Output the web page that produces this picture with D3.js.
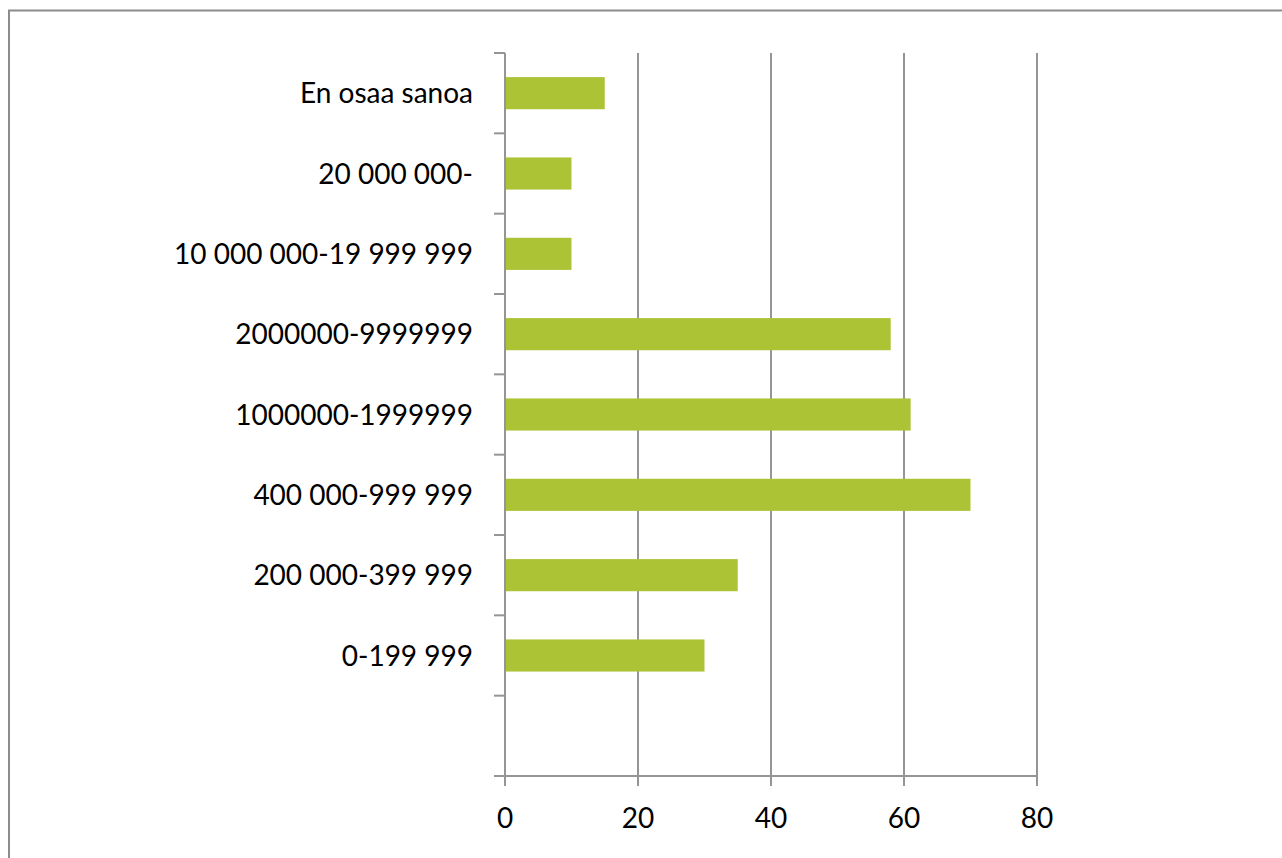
<!DOCTYPE html>
<html>
<head>
<meta charset="utf-8">
<script src="https://cdn.jsdelivr.net/npm/d3@7"></script>
<style>
  html, body { margin: 0; padding: 0; background: #fff; }
  svg { display: block; }
  text { font-family: Lato, "Open Sans", sans-serif; fill: #000; }
</style>
</head>
<body>
<svg id="chart" width="1282" height="858"></svg>
<script>
// Income categories, top to bottom; the last one is an empty slot
const categories = [
  "En osaa sanoa",
  "20 000 000-",
  "10 000 000-19 999 999",
  "2000000-9999999",
  "1000000-1999999",
  "400 000-999 999",
  "200 000-399 999",
  "0-199 999",
  ""
];
const values = [15, 10, 10, 58, 61, 70, 35, 30, null];
const xTicks = [0, 20, 40, 60, 80];

const svg = d3.select("#chart");
const gridColor = "#959595";
const barColor = "#adc336";
const fontSize = 28;

// Outer frame of the chart area
svg.append("rect")
  .attr("x", 9).attr("y", 10.5)
  .attr("width", 1400).attr("height", 1000)
  .attr("fill", "none")
  .attr("stroke", "#8c8c8c")
  .attr("stroke-width", 2);

const plot = { left: 505, right: 1037, top: 53, bottom: 776 };

const x = d3.scaleLinear().domain([0, 80]).range([plot.left, plot.right]);
const y = d3.scaleBand()
  .domain(categories.map((c, i) => i))
  .range([plot.top, plot.bottom])
  .paddingInner(0.6)
  .paddingOuter(0.3);
const step = y.step();

// Vertical gridlines
svg.append("g").selectAll("line")
  .data(xTicks.filter(t => t > 0))
  .join("line")
  .attr("x1", d => x(d)).attr("x2", d => x(d))
  .attr("y1", plot.top).attr("y2", plot.bottom)
  .attr("stroke", gridColor).attr("stroke-width", 2);

// Bars
svg.append("g").selectAll("rect")
  .data(values.map((v, i) => ({ v, i })).filter(d => d.v != null))
  .join("rect")
  .attr("x", x(0))
  .attr("y", d => y(d.i))
  .attr("width", d => x(d.v) - x(0))
  .attr("height", y.bandwidth())
  .attr("fill", barColor);

// Category axis: line plus ticks between categories
const yAxis = svg.append("g");
yAxis.append("line")
  .attr("x1", plot.left).attr("x2", plot.left)
  .attr("y1", plot.top).attr("y2", plot.bottom)
  .attr("stroke", gridColor).attr("stroke-width", 2);
yAxis.selectAll("line.tick")
  .data(d3.range(categories.length + 1))
  .join("line")
  .attr("class", "tick")
  .attr("x1", plot.left - 11).attr("x2", plot.left)
  .attr("y1", i => plot.top + i * step).attr("y2", i => plot.top + i * step)
  .attr("stroke", gridColor).attr("stroke-width", 2);
yAxis.selectAll("text")
  .data(categories.map((c, i) => ({ c, i })))
  .join("text")
  .attr("x", plot.left - 32)
  .attr("y", d => y(d.i) + y.bandwidth() / 2)
  .attr("dy", "0.36em")
  .attr("text-anchor", "end")
  .attr("font-size", fontSize)
  .text(d => d.c);

// Value axis along the bottom
const xAxis = svg.append("g");
xAxis.append("line")
  .attr("x1", plot.left - 11).attr("x2", plot.right)
  .attr("y1", plot.bottom).attr("y2", plot.bottom)
  .attr("stroke", gridColor).attr("stroke-width", 2);
xAxis.selectAll("line.tick")
  .data(xTicks)
  .join("line")
  .attr("class", "tick")
  .attr("x1", d => x(d)).attr("x2", d => x(d))
  .attr("y1", plot.bottom).attr("y2", plot.bottom + 10)
  .attr("stroke", gridColor).attr("stroke-width", 2);
xAxis.selectAll("text")
  .data(xTicks)
  .join("text")
  .attr("x", d => x(d))
  .attr("y", 828)
  .attr("text-anchor", "middle")
  .attr("font-size", fontSize)
  .text(d => d);
</script>
</body>
</html>
